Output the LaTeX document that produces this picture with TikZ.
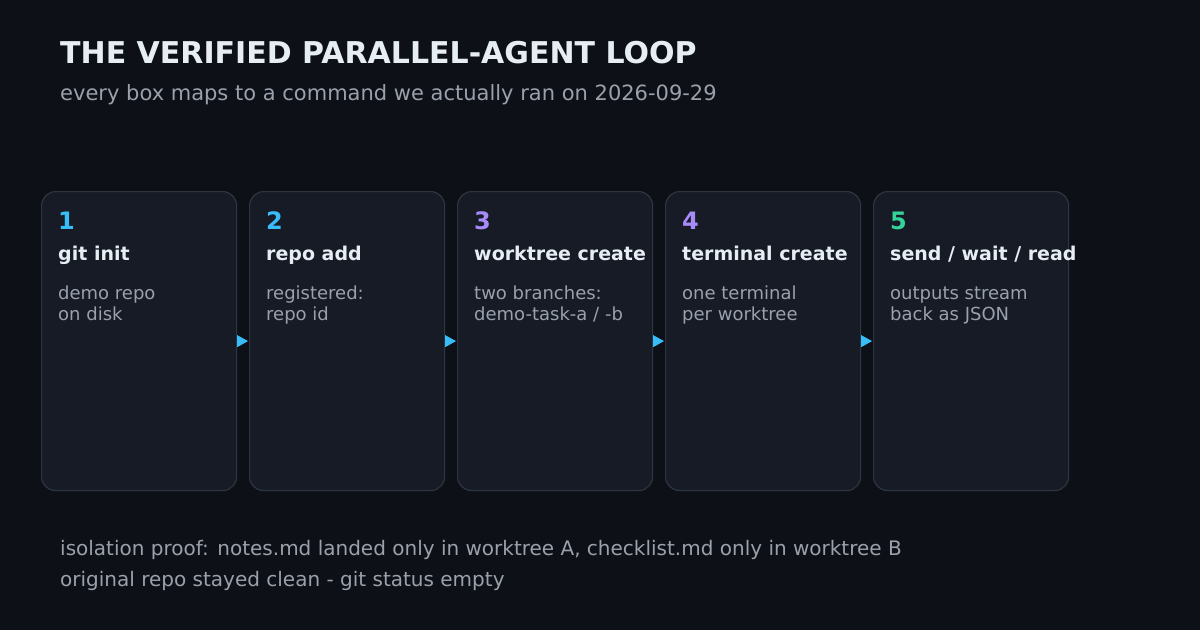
\documentclass[tikz,border=0pt]{standalone}
\usepackage{fontspec}
\setmainfont{DejaVu Sans}
\usetikzlibrary{arrows.meta}
\definecolor{bg}{HTML}{0D1117}
\definecolor{card}{HTML}{161B26}
\definecolor{edge}{HTML}{2F353F}
\definecolor{ink}{HTML}{E6EDF3}
\definecolor{muted}{HTML}{9AA1AC}
\definecolor{sky}{HTML}{38BDF8}
\definecolor{lilac}{HTML}{A78BFA}
\definecolor{mint}{HTML}{34D399}

\begin{document}
\begin{tikzpicture}[x=1pt,y=-1pt,
    box/.style={draw=edge, fill=card, line width=1.2pt, rounded corners=14pt, minimum width=195pt, minimum height=299pt, inner sep=0pt},
    num/.style={anchor=base west, inner sep=0pt, font=\fontsize{24}{24}\selectfont\bfseries},
    head/.style={anchor=base west, inner sep=0pt, text=ink, font=\fontsize{19}{19}\selectfont\bfseries},
    body/.style={anchor=base west, inner sep=0pt, text=muted, font=\fontsize{18}{18}\selectfont},
    link/.style={draw=sky, line width=0.8pt, -{Triangle[length=11pt,width=12pt]}}]
    % Background
    \fill[bg] (0,0) rectangle (1200,630);
    \node[anchor=base west, inner sep=0pt, text=ink, font=\fontsize{30}{30}\selectfont\bfseries] (title) at (60,63) {THE VERIFIED PARALLEL-AGENT LOOP};
    \node[anchor=base west, inner sep=0pt, text=muted, font=\fontsize{21}{21}\selectfont] (sub) at (60,100) {every box maps to a command we actually ran on 2026-09-29};
    % Steps
    \foreach \i/\c/\h/\s/\t in {1/sky/{git init}/{demo repo}/{on disk},
                                2/sky/{repo add}/{registered:}/{repo id},
                                3/lilac/{worktree create}/{two branches:}/{demo-task-a / -b},
                                4/lilac/{terminal create}/{one terminal}/{per worktree},
                                5/mint/{send / wait / read}/{outputs stream}/{back as JSON}} {
        \node[box, anchor=north west] (b\i) at ({41+208*(\i-1)},191) {};
        \node[num, text=\c] (n\i) at ({58+208*(\i-1)},229) {\i};
        \node[head] (h\i) at ({58+208*(\i-1)},260) {\h};
        \node[body] (s\i) at ({58+208*(\i-1)},299) {\s};
        \node[body] (t\i) at ({58+208*(\i-1)},320) {\t};
    }
    % Links
    \foreach \i [evaluate=\i as \j using int(\i+1)] in {1,...,4}
        \draw[link] ([xshift=1pt]b\i.east) -- ([xshift=-1pt]b\j.west);
    % Footer
    \node[anchor=base west, inner sep=0pt, text=muted, font=\fontsize{20}{20}\selectfont] (note1) at (60,555) {isolation proof: notes.md landed only in worktree A, checklist.md only in worktree B};
    \node[anchor=base west, inner sep=0pt, text=muted, font=\fontsize{20}{20}\selectfont] (note2) at (60,586) {original repo stayed clean - git status empty};
\end{tikzpicture}
\end{document}
